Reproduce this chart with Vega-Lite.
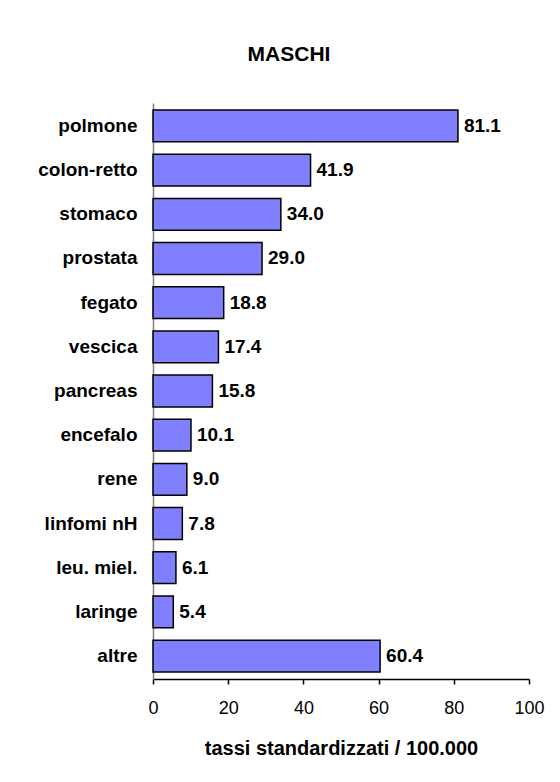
{
  "$schema": "https://vega.github.io/schema/vega-lite/v6.json",
  "width": 376,
  "height": 576,
  "autosize": {"type": "none"},
  "padding": {"left": 153, "top": 103, "right": 31, "bottom": 103},
  "background": "white",
  "title": {
    "text": "MASCHI",
    "font": "Liberation Sans",
    "fontSize": 21,
    "fontWeight": "bold",
    "color": "black",
    "anchor": "middle",
    "baseline": "alphabetic",
    "offset": 21,
    "dx": -52
  },
  "data": {
    "values": [
      {"sede": "polmone", "tasso": 81.1},
      {"sede": "colon-retto", "tasso": 41.9},
      {"sede": "stomaco", "tasso": 34.0},
      {"sede": "prostata", "tasso": 29.0},
      {"sede": "fegato", "tasso": 18.8},
      {"sede": "vescica", "tasso": 17.4},
      {"sede": "pancreas", "tasso": 15.8},
      {"sede": "encefalo", "tasso": 10.1},
      {"sede": "rene", "tasso": 9.0},
      {"sede": "linfomi nH", "tasso": 7.8},
      {"sede": "leu. miel.", "tasso": 6.1},
      {"sede": "laringe", "tasso": 5.4},
      {"sede": "altre", "tasso": 60.4}
    ]
  },
  "encoding": {
    "y": {
      "field": "sede",
      "type": "nominal",
      "sort": null,
      "scale": {"paddingInner": 0.28, "paddingOuter": 0.16},
      "axis": {
        "title": null,
        "ticks": false,
        "domainColor": "#808080",
        "domainWidth": 1.5,
        "labelFont": "Liberation Sans",
        "labelFontSize": 19,
        "labelFontWeight": "bold",
        "labelColor": "black",
        "labelPadding": 16,
        "grid": false
      }
    },
    "x": {
      "field": "tasso",
      "type": "quantitative",
      "scale": {"domain": [0, 100], "nice": false},
      "axis": {
        "title": "tassi standardizzati / 100.000",
        "titleFont": "Liberation Sans",
        "titleFontSize": 20,
        "titleFontWeight": "bold",
        "titleColor": "black",
        "titlePadding": 21,
        "values": [0, 20, 40, 60, 80, 100],
        "labelFlush": false,
        "labelOverlap": false,
        "labelFont": "Liberation Sans",
        "labelFontSize": 18,
        "labelColor": "black",
        "labelPadding": 15,
        "tickSize": 5,
        "tickColor": "black",
        "tickWidth": 1.5,
        "domainColor": "black",
        "domainWidth": 1.5,
        "grid": false
      }
    }
  },
  "layer": [
    {
      "mark": {"type": "bar", "color": "#8080FF", "stroke": "black", "strokeWidth": 1.5}
    },
    {
      "mark": {
        "type": "text",
        "align": "left",
        "baseline": "middle",
        "dx": 6,
        "font": "Liberation Sans",
        "fontSize": 19,
        "fontWeight": "bold",
        "color": "black"
      },
      "encoding": {
        "text": {"field": "tasso", "type": "quantitative", "format": ".1f"}
      }
    }
  ],
  "config": {
    "view": {"stroke": null}
  }
}
